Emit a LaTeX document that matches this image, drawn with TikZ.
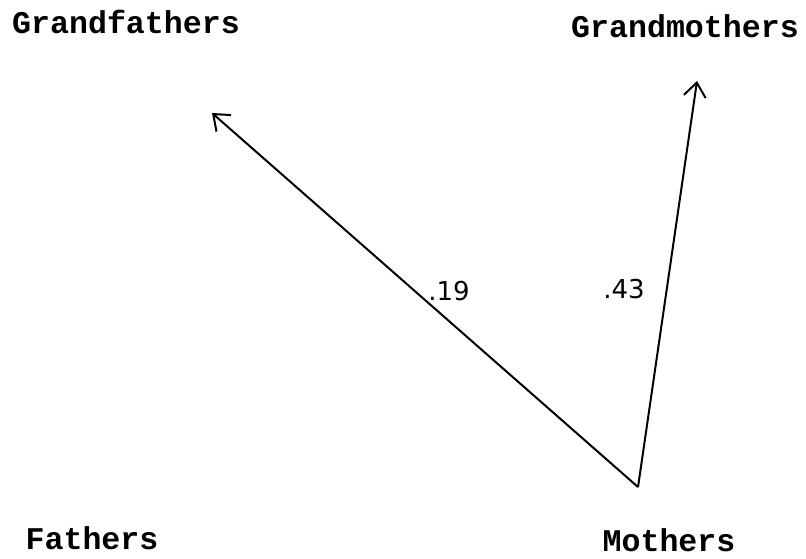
\documentclass[tikz,border=0pt]{standalone}
\usepackage{fontspec}
\setmonofont{Liberation Mono}
\setsansfont{DejaVu Sans}
\usetikzlibrary{arrows.meta,positioning}

\begin{document}
\begin{tikzpicture}[
        x=0.5pt, y=-0.5pt,
        gen/.style={font=\fontsize{15.8}{18}\selectfont\ttfamily\bfseries, inner sep=0pt},
        wgt/.style={font=\fontsize{13}{15}\selectfont\sffamily, inner sep=0pt},
        arr/.style={-{Straight Barb[length=7pt, width=11pt, line width=1pt]}, line width=1pt}
    ]
        \useasboundingbox (0,0) rectangle (806,558);

        %--- Generation labels ---
        \node[gen] (gf) at (126,22) {Grandfathers};
        \node[gen] (gm) at (685,26) {Grandmothers};
        \node[gen] (fa) at (92,538) {Fathers};
        \node[gen] (mo) at (669,540) {Mothers};

        %--- Arrow ends ---
        \coordinate (v) at (638,487);
        \coordinate (gfend) at (212,113);
        \coordinate (gmend) at (697,81);

        %--- Arrows ---
        \draw[arr] (v) -- (gfend);
        \draw[arr] (v) -- (gmend);

        %--- Path coefficients ---
        \node[wgt] (p19) at (449,291) {.19};
        \node[wgt] (p43) at (624,289) {.43};
    \end{tikzpicture}
\end{document}
